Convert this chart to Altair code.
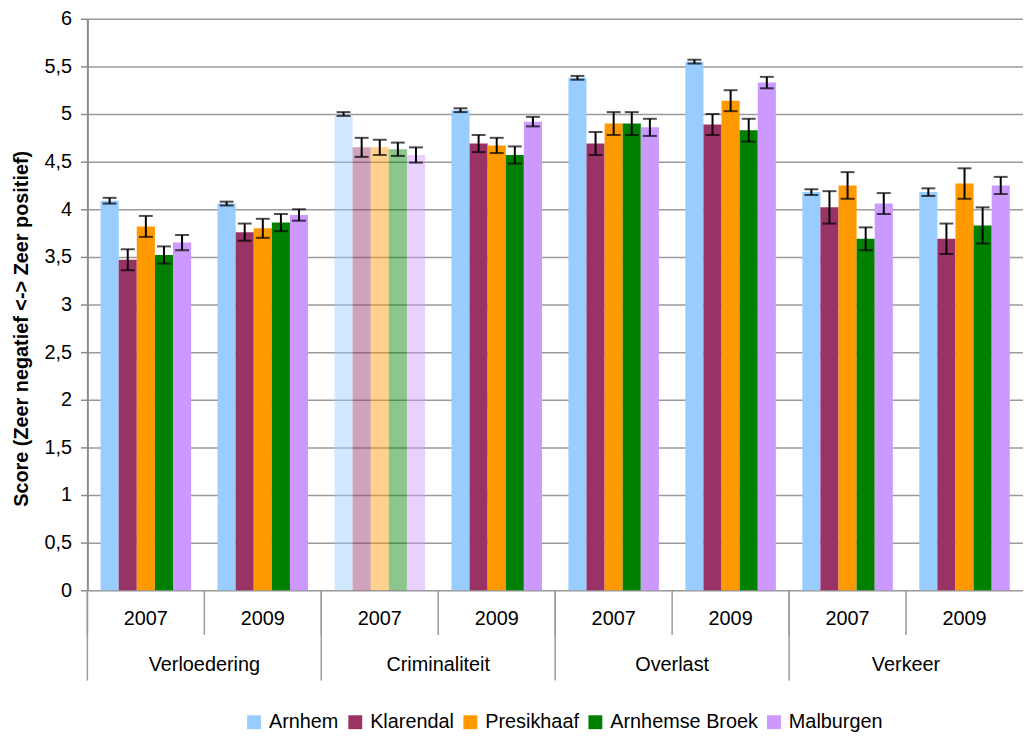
import altair as alt
import pandas as pd

categories = ["Verloedering", "Criminaliteit", "Overlast", "Verkeer"]
years = ["2007", "2009"]
neighborhoods = ["Arnhem", "Klarendal", "Presikhaaf", "Arnhemse Broek", "Malburgen"]
colors = ["#99CCFF", "#993366", "#FF9900", "#008000", "#CC99FF"]

# values per neighbourhood, in order: Verl07, Verl09, Crim07, Crim09, Overl07, Overl09, Verk07, Verk09
arnhem = [4.09, 4.06, 5.00, 5.04, 5.38, 5.55, 4.18, 4.18]
klarendal = [3.47, 3.76, 4.65, 4.69, 4.69, 4.89, 4.02, 3.69]
presikhaaf = [3.82, 3.80, 4.65, 4.67, 4.90, 5.14, 4.25, 4.27]
arnhemse_broek = [3.52, 3.86, 4.63, 4.57, 4.90, 4.83, 3.69, 3.83]
malburgen = [3.65, 3.94, 4.57, 4.92, 4.86, 5.33, 4.06, 4.25]

arnhem_err = [0.03, 0.02, 0.02, 0.02, 0.02, 0.02, 0.03, 0.04]
klarendal_err = [0.11, 0.09, 0.10, 0.09, 0.12, 0.11, 0.17, 0.16]
presikhaaf_err = [0.11, 0.10, 0.08, 0.08, 0.12, 0.11, 0.14, 0.16]
arnhemse_broek_err = [0.09, 0.09, 0.07, 0.09, 0.12, 0.12, 0.12, 0.19]
malburgen_err = [0.08, 0.06, 0.08, 0.05, 0.09, 0.06, 0.11, 0.09]

y_ticks = [0, 0.5, 1, 1.5, 2, 2.5, 3, 3.5, 4, 4.5, 5, 5.5, 6]
y_title = "Score (Zeer negatief <-> Zeer positief)"

series = [arnhem, klarendal, presikhaaf, arnhemse_broek, malburgen]
errors = [arnhem_err, klarendal_err, presikhaaf_err, arnhemse_broek_err, malburgen_err]

keys = [f"{c}|{y}" for c in categories for y in years]
rows = []
for nb, vals, errs in zip(neighborhoods, series, errors):
    for i, k in enumerate(keys):
        c, y = k.split("|")
        rows.append({
            "key": k, "cat": c, "year": y, "nb": nb,
            "value": vals[i], "lo": vals[i] - errs[i], "hi": vals[i] + errs[i],
            "pale": (c == "Criminaliteit" and y == "2007"),
        })
df = pd.DataFrame(rows)

year_df = pd.DataFrame({"key": keys, "year": [k.split("|")[1] for k in keys]})
cat_df = pd.DataFrame({"key": [f"{c}|2009" for c in categories], "cat": categories})
catsep_df = pd.DataFrame({"key": [f"{c}|2007" for c in categories]})

FONT = "Liberation Sans"
xscale = alt.Scale(domain=keys, paddingInner=0, paddingOuter=0)
oscale = alt.Scale(domain=neighborhoods, paddingInner=0, paddingOuter=0.73)
yscale = alt.Scale(domain=[0, 6], nice=False, zero=True)

X = alt.X("key:N", scale=xscale, axis=None, sort=keys)
XO = alt.XOffset("nb:N", scale=oscale, sort=neighborhoods)

bars = alt.Chart(df).mark_bar(strokeWidth=0).encode(
    x=X,
    xOffset=XO,
    y=alt.Y("value:Q", scale=yscale, axis=alt.Axis(
        values=y_ticks,
        labelExpr="replace(format(datum.value, '.1~f'), '.', ',')",
        labelFont=FONT, labelFontSize=20, labelColor="black", labelPadding=9,
        tickSize=7, tickColor="#8c8c8c", tickWidth=1.5,
        domainColor="#8c8c8c", domainWidth=2,
        grid=True, gridColor="#9a9a9a", gridWidth=1.5,
        title=y_title, titleFont=FONT, titleFontSize=20, titleFontWeight="bold",
        titleColor="black", titleAngle=270, titleX=-66, titleY=312,
        titleAlign="center", titleBaseline="middle",
    )),
    color=alt.Color("nb:N", scale=alt.Scale(domain=neighborhoods, range=colors),
                    legend=alt.Legend(
                        orient="none", legendX=158, legendY=699, direction="horizontal",
                        title=None, symbolType="square", symbolSize=196,
                        symbolStrokeWidth=0, labelFont=FONT, labelFontSize=20,
                        labelColor="black", labelOffset=5, columnPadding=6,
                    )),
    opacity=alt.condition("datum.pale", alt.value(0.45), alt.value(1.0)),
)

err_rule = alt.Chart(df).mark_rule(color="black", strokeWidth=2).encode(
    x=X, xOffset=XO,
    y=alt.Y("lo:Q", scale=yscale), y2="hi:Q",
)
cap_lo = alt.Chart(df).mark_tick(color="black", thickness=2, size=14, orient="horizontal").encode(
    x=X, xOffset=XO, y=alt.Y("lo:Q", scale=yscale),
)
cap_hi = alt.Chart(df).mark_tick(color="black", thickness=2, size=14, orient="horizontal").encode(
    x=X, xOffset=XO, y=alt.Y("hi:Q", scale=yscale),
)

year_sep = alt.Chart(year_df).mark_rule(color="#9a9a9a", strokeWidth=1.5).encode(
    x=alt.X("key:N", scale=xscale, axis=None, bandPosition=0),
    y=alt.value(576), y2=alt.value(621),
)
cat_sep = alt.Chart(catsep_df).mark_rule(color="#9a9a9a", strokeWidth=1.5).encode(
    x=alt.X("key:N", scale=xscale, axis=None, bandPosition=0),
    y=alt.value(576), y2=alt.value(667),
)
year_lbl = alt.Chart(year_df).mark_text(font=FONT, fontSize=20, color="black", baseline="middle").encode(
    x=alt.X("key:N", scale=xscale, axis=None),
    y=alt.value(605),
    text="year:N",
)
cat_lbl = alt.Chart(cat_df).mark_text(font=FONT, fontSize=20, color="black", baseline="middle").encode(
    x=alt.X("key:N", scale=xscale, axis=None, bandPosition=0),
    y=alt.value(651),
    text="cat:N",
)

chart = alt.layer(
    bars, err_rule, cap_lo, cap_hi, year_sep, cat_sep, year_lbl, cat_lbl
).properties(
    width=943, height=576,
    autosize=alt.AutoSizeParams(type="none"),
    padding={"left": 80, "top": 8, "right": 0, "bottom": 140},
).configure_view(stroke=None).configure(background="white")

chart.save("out.html", embed_options={"renderer": "svg", "actions": False})
